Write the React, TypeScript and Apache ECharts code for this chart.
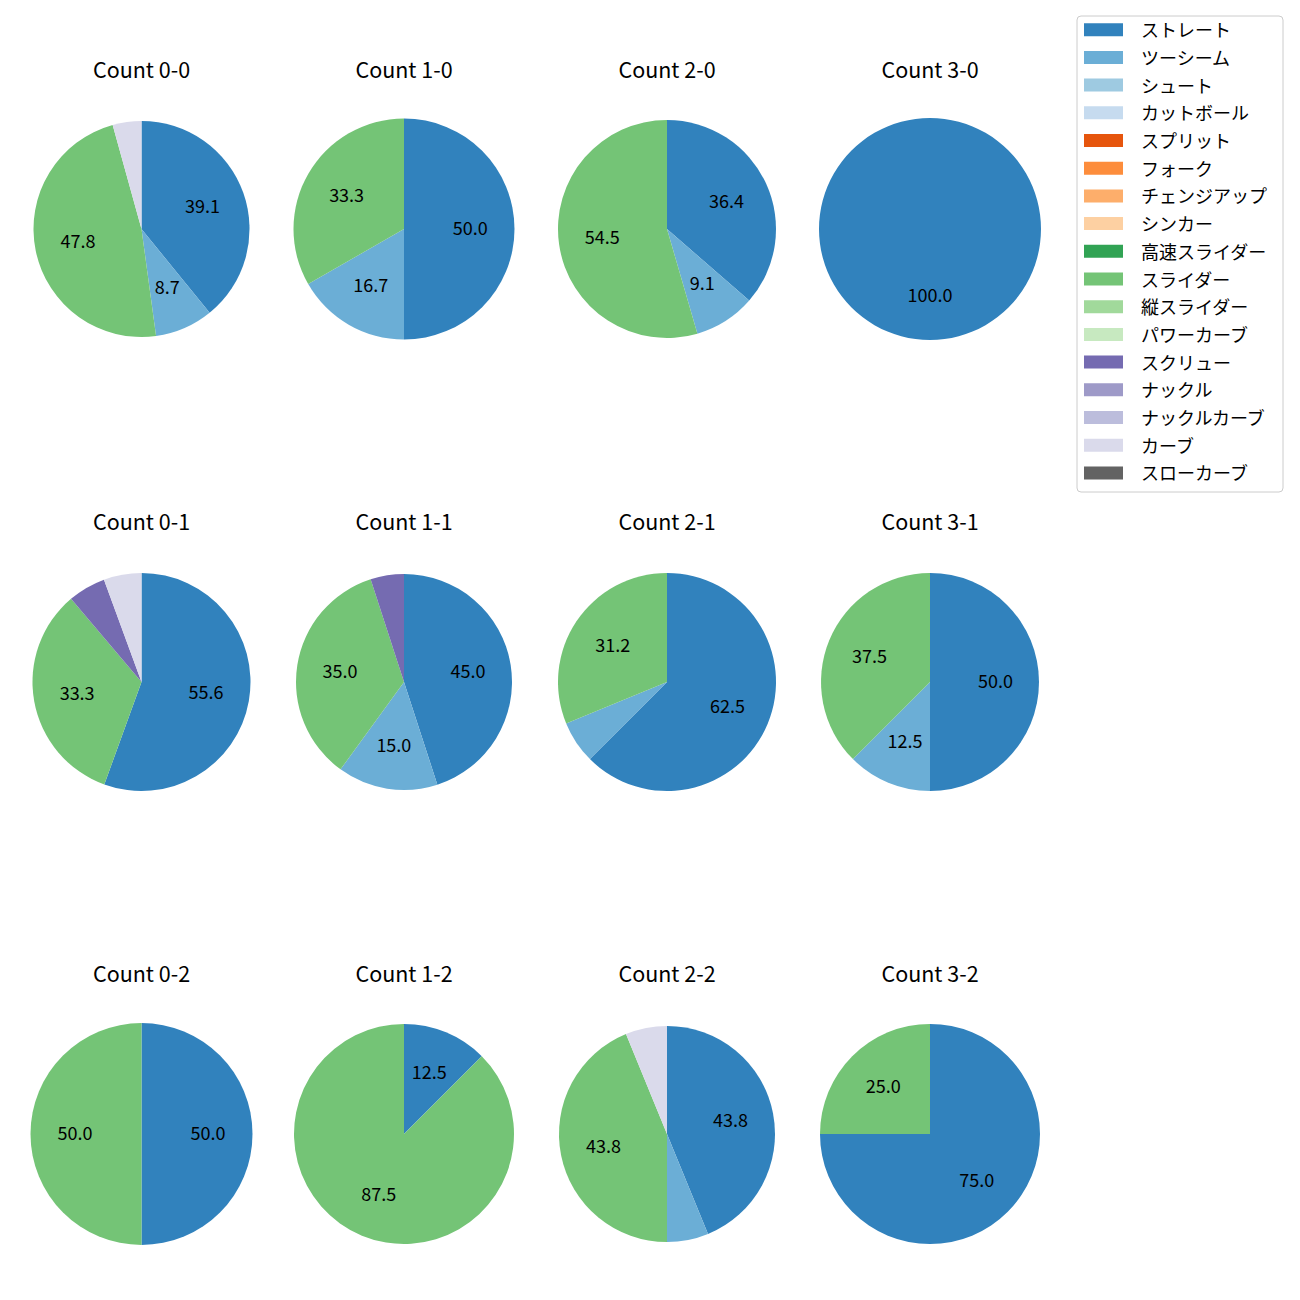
import React, { useEffect, useRef } from "react";
import * as echarts from "echarts";

const pitchTypes = [
  "ストレート", "ツーシーム", "シュート", "カットボール", "スプリット", "フォーク",
  "チェンジアップ", "シンカー", "高速スライダー", "スライダー", "縦スライダー",
  "パワーカーブ", "スクリュー", "ナックル", "ナックルカーブ", "カーブ", "スローカーブ",
];
const pitchColors = [
  "#3182bd", "#6baed6", "#9ecae1", "#c6dbef", "#e6550d", "#fd8d3c",
  "#fdae6b", "#fdd0a2", "#31a354", "#74c476", "#a1d99b",
  "#c7e9c0", "#756bb1", "#9e9ac8", "#bcbddc", "#dadaeb", "#636363",
];

const chartTitles = [
  "Count 0-0", "Count 1-0", "Count 2-0", "Count 3-0",
  "Count 0-1", "Count 1-1", "Count 2-1", "Count 3-1",
  "Count 0-2", "Count 1-2", "Count 2-2", "Count 3-2",
];

// share (%) of each pitch type, per ball-strike count
const count00: [string, number][] = [["ストレート", 39.1], ["ツーシーム", 8.7], ["スライダー", 47.8], ["カーブ", 4.3]];
const count10: [string, number][] = [["ストレート", 50.0], ["ツーシーム", 16.7], ["スライダー", 33.3]];
const count20: [string, number][] = [["ストレート", 36.4], ["ツーシーム", 9.1], ["スライダー", 54.5]];
const count30: [string, number][] = [["ストレート", 100.0]];
const count01: [string, number][] = [["ストレート", 55.6], ["スライダー", 33.3], ["スクリュー", 5.6], ["カーブ", 5.6]];
const count11: [string, number][] = [["ストレート", 45.0], ["ツーシーム", 15.0], ["スライダー", 35.0], ["スクリュー", 5.0]];
const count21: [string, number][] = [["ストレート", 62.5], ["ツーシーム", 6.3], ["スライダー", 31.2]];
const count31: [string, number][] = [["ストレート", 50.0], ["ツーシーム", 12.5], ["スライダー", 37.5]];
const count02: [string, number][] = [["ストレート", 50.0], ["スライダー", 50.0]];
const count12: [string, number][] = [["ストレート", 12.5], ["スライダー", 87.5]];
const count22: [string, number][] = [["ストレート", 43.8], ["ツーシーム", 6.2], ["スライダー", 43.8], ["カーブ", 6.2]];
const count32: [string, number][] = [["ストレート", 75.0], ["スライダー", 25.0]];

const chartData = [count00, count10, count20, count30, count01, count11, count21, count31, count02, count12, count22, count32];

// layout
const colX = [141.5, 404, 667, 930];
const rowY = [229, 682, 1134];
const titleY = [68, 520, 972];
const radii = [108, 110.5, 109, 111, 109, 108, 109, 109, 111, 110, 108, 110];
const LABEL_MIN = 7;

const FONT = '"Noto Sans CJK JP", "Noto Sans", sans-serif';

export default function App() {
  const ref = useRef<HTMLDivElement>(null);

  useEffect(() => {
    if (!ref.current) return;
    const chart = echarts.init(ref.current, null, { renderer: "svg" });
    const colorOf = (n: string) => pitchColors[pitchTypes.indexOf(n)];

    const series: any[] = [];
    const graphic: any[] = [];

    chartData.forEach((items, i) => {
      const cx = colX[i % 4];
      const cy = rowY[Math.floor(i / 4)];
      const r = radii[i];
      series.push({
        type: "pie",
        center: [cx, cy],
        radius: [0, r],
        startAngle: 90,
        clockwise: true,
        silent: true,
        avoidLabelOverlap: false,
        label: { show: false },
        labelLine: { show: false },
        itemStyle: { borderWidth: 0 },
        emphasis: { disabled: true },
        data: items.map(([n, v]) => ({ name: n, value: v, itemStyle: { color: colorOf(n) } })),
      });
      // transparent twin pie: its inside labels sit at 0.6 of the visible radius
      // (ECharts pushes inside labels 3px outward, hence the -6; -2px compensates font baseline)
      series.push({
        type: "pie",
        center: [cx, cy - 2],
        radius: [0, r * 1.2 - 6],
        startAngle: 90,
        clockwise: true,
        silent: true,
        avoidLabelOverlap: false,
        labelLine: { show: false },
        itemStyle: { color: "rgba(0,0,0,0)", borderWidth: 0 },
        emphasis: { disabled: true },
        label: {
          show: true,
          position: "inside",
          formatter: (p: any) => (p.value >= LABEL_MIN ? Number(p.value).toFixed(1) : ""),
          fontSize: 18,
          color: "#000",
          fontFamily: FONT,
        },
        data: items.map(([, v]) => ({ value: v })),
      });
      graphic.push({
        type: "text",
        x: cx,
        y: titleY[Math.floor(i / 4)],
        style: {
          text: chartTitles[i],
          fontSize: 21.5,
          fontFamily: FONT,
          fill: "#000",
          align: "center",
          verticalAlign: "middle",
          textAlign: "center",
          textVerticalAlign: "middle",
        },
      });
    });

    // legend box
    const lgX = 1077, lgY = 16, lgW = 206, lgH = 476, rowH = 27.7;
    graphic.push({
      type: "rect",
      shape: { x: lgX, y: lgY, width: lgW, height: lgH, r: 4 },
      style: { fill: "rgba(255,255,255,0.8)", stroke: "#cccccc", lineWidth: 1 },
    });
    pitchTypes.forEach((n, k) => {
      const yc = 29.7 + rowH * k;
      graphic.push({
        type: "rect",
        shape: { x: 1084, y: yc - 6.5, width: 39, height: 13 },
        style: { fill: pitchColors[k] },
      });
      graphic.push({
        type: "text",
        x: 1141,
        y: yc - 0.5,
        style: {
          text: n,
          fontSize: 18,
          fontFamily: FONT,
          fill: "#000",
          align: "left",
          verticalAlign: "middle",
          textAlign: "left",
          textVerticalAlign: "middle",
        },
      });
    });

    chart.setOption({
      animation: false,
      backgroundColor: "#ffffff",
      series,
      graphic,
    });
    return () => chart.dispose();
  }, []);

  return (
    <div
      ref={ref}
      style={{ position: "absolute", left: 0, top: 0, width: 1300, height: 1300 }}
    />
  );
}
